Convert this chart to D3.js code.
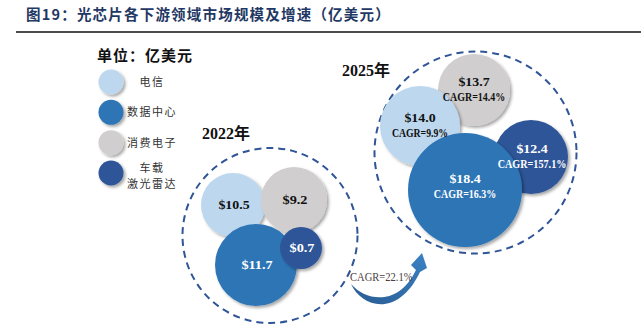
<!DOCTYPE html>
<html><head><meta charset="utf-8">
<script src="https://cdn.jsdelivr.net/npm/d3@7/dist/d3.min.js"></script>
<style>
html,body{margin:0;padding:0;background:#fff;}
svg{display:block;}
</style></head>
<body>
<script>
// ---- data ----
const categories = ["电信", "数据中心", "消费电子", "车载激光雷达"];
const legendLines = [["电信"], ["数据中心"], ["消费电子"], ["车载", "激光雷达"]];
const years = ["2022年", "2025年"];
const values2022 = [10.5, 11.7, 9.2, 0.7];
const values2025 = [14.0, 18.4, 13.7, 12.4];
const cagr2025 = [9.9, 16.3, 14.4, 157.1];
const totalCagr = 22.1;
const titleText = "图19：光芯片各下游领域市场规模及增速（亿美元）";
const unitText = "单位：亿美元";

// ---- presentation ----
const colors = ["#bdd7ee", "#2e75b6", "#d0cece", "#2f5597"];
const textColors = ["#111", "#fff", "#111", "#fff"];
const W = 641, H = 330;
const serif = "'Liberation Serif','Noto Sans CJK SC',serif";
const cjk = "'Noto Sans CJK SC','Liberation Serif',serif";
const halfW = 6.25; // width of one half-width character in the labels

// bubble layout (positions/radii as presentation config)
const layout2022 = [ {x:233,y:205,r:32}, {x:256,y:265,r:41}, {x:294,y:200,r:33}, {x:301,y:248,r:21} ];
const layout2025 = [ {x:420,y:126,r:40}, {x:465,y:190,r:57}, {x:474,y:90,r:36}, {x:531,y:157,r:37} ];
const order2022 = [0, 2, 1, 3];
const order2025 = [2, 0, 3, 1];
const clusters = [
  {cx:270, cy:235.5, r:87.5, label:{x:202, y:139}},
  {cx:475.5, cy:152.5, r:101, label:{x:342, y:76}}
];

const svg = d3.select("body").append("svg").attr("width", W).attr("height", H);
const defs = svg.append("defs");
const f = defs.append("filter").attr("id","sh").attr("x","-20%").attr("y","-20%").attr("width","150%").attr("height","150%");
f.append("feDropShadow").attr("dx",2).attr("dy",2).attr("stdDeviation",1.6).attr("flood-color","#000").attr("flood-opacity",0.35);
const g = defs.append("linearGradient").attr("id","arrowGrad").attr("x1","0").attr("y1","1").attr("x2","1").attr("y2","0");
g.append("stop").attr("offset","0%").attr("stop-color","#2a5c93");
g.append("stop").attr("offset","100%").attr("stop-color","#3a82c4");

// title
svg.append("text").attr("x",26).attr("y",20).attr("font-family",cjk).attr("font-weight","bold")
  .attr("font-size",14.5).attr("fill","#1f3864").attr("letter-spacing",1.2).text(titleText);
svg.append("line").attr("x1",16).attr("x2",W).attr("y1",32).attr("y2",32).attr("stroke","#111").attr("stroke-width",1.5);

// unit
svg.append("text").attr("x",97).attr("y",61).attr("font-family",cjk).attr("font-weight","bold")
  .attr("font-size",15).attr("letter-spacing",1).attr("fill","#111").text(unitText);

// legend
const legY = d3.scalePoint().domain(categories).range([82, 173]);
const leg = svg.append("g").selectAll("g").data(categories).join("g");
leg.append("circle").attr("cx",111).attr("cy",d=>legY(d)).attr("r",12.5)
  .attr("fill",(d,i)=>colors[i]).attr("filter","url(#sh)");
leg.each(function(d,i){
  const lines = legendLines[i];
  const gg = d3.select(this);
  lines.forEach((t,j)=>{
    const y = lines.length===1 ? legY(d)+4 : legY(d) - 1 + j*16;
    gg.append("text").attr("x",152).attr("y",y).attr("text-anchor","middle")
      .attr("font-family",cjk).attr("font-size",11).attr("letter-spacing",1.5).attr("fill","#333").text(t);
  });
});

// clusters
clusters.forEach((c,k)=>{
  svg.append("circle").attr("cx",c.cx).attr("cy",c.cy).attr("r",c.r).attr("fill","none")
    .attr("stroke","#2f5597").attr("stroke-width",2).attr("stroke-dasharray","7,5");
  svg.append("text").attr("x",c.label.x).attr("y",c.label.y).attr("font-family",serif).attr("font-weight","bold")
    .attr("font-size",16).attr("fill","#111").text(years[k]);
});

function label(parent, x, y, str, size, color, weight){
  return parent.append("text").attr("x",x).attr("y",y).attr("text-anchor","middle")
    .attr("font-family",serif).attr("font-weight",weight||"bold").attr("font-size",size).attr("fill",color)
    .attr("textLength",str.length*halfW).attr("lengthAdjust","spacingAndGlyphs").text(str);
}

function drawBubbles(vals, lay, order, withCagr){
  const gb = svg.append("g");
  order.forEach(i=>{
    gb.append("circle").attr("cx",lay[i].x).attr("cy",lay[i].y).attr("r",lay[i].r)
      .attr("fill",colors[i]).attr("filter","url(#sh)");
  });
  vals.forEach((v,i)=>{
    const L = lay[i];
    if(withCagr){
      const dy = (i===1?-3:0), dx = (i===3?1:0);
      label(gb, L.x+dx, L.y-4+dy, "$"+v.toFixed(1), 12.5, textColors[i]);
      label(gb, L.x+dx, L.y+11+dy, "CAGR="+cagr2025[i].toFixed(1)+"%", 12, textColors[i]);
    } else {
      label(gb, L.x+1, L.y+4, "$"+v.toFixed(1), 12.5, textColors[i]);
    }
  });
}
drawBubbles(values2022, layout2022, order2022, false);
drawBubbles(values2025, layout2025, order2025, true);

// overall growth arrow
svg.append("path")
  .attr("d","M351,284 C362,308 398,318 420,272 L427,268 L422,253 L411,265 L416,270 C398,307 366,301 351,284 Z")
  .attr("fill","url(#arrowGrad)");
const tl = "CAGR="+totalCagr.toFixed(1)+"%";
svg.append("text").attr("x",350).attr("y",281).attr("font-family",serif).attr("font-size",12.5)
  .attr("fill","#4a4040").attr("textLength",tl.length*halfW).attr("lengthAdjust","spacingAndGlyphs").text(tl);
</script>
</body></html>
